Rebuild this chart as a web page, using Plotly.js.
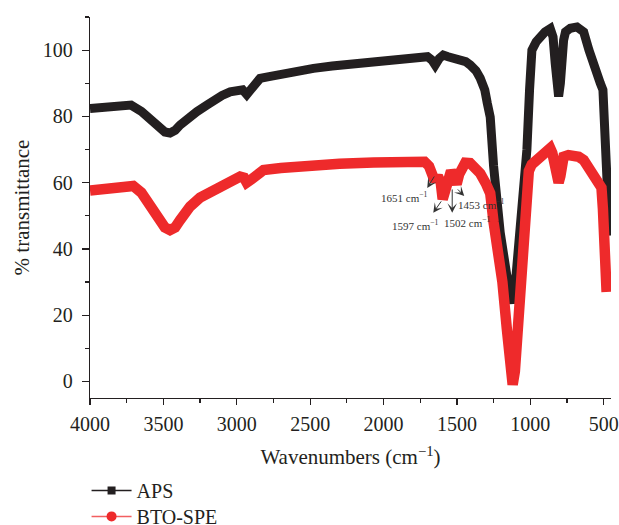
<!DOCTYPE html>
<html>
<head>
<meta charset="utf-8">
<script src="https://cdn.plot.ly/plotly-3.0.1.min.js"></script>
<style>html,body{margin:0;padding:0;background:#fff;}#chart{width:619px;height:525px;}</style>
</head>
<body>
<div id="chart"></div>
<script>
// APS spectrum
var apsWavenumber = [4000,3900,3800,3720,3650,3600,3545,3490,3455,3420,3386,3330,3272,3200,3159,3100,3045,2990,2960,2932,2900,2886,2841,2780,2704,2600,2477,2350,2250,2150,2068,1950,1886,1800,1750,1700,1670,1648,1620,1593,1560,1520,1477,1440,1409,1370,1341,1310,1293,1273,1250,1205,1160,1130,1114,1095,1070,1045,1023,1005,989,960,932,900,864,845,830,815,807,795,785,773,760,727,682,636,600,568,540,523,505,490,475,460];
var apsTransmittance = [82.4,82.8,83.2,83.4,81.5,79.6,76.9,75.3,75.0,75.8,77.4,79.6,81.4,83.5,84.9,86.3,87.4,88.0,88.0,86.6,88.5,89.4,91.5,92.0,92.8,93.7,94.5,95.2,95.7,96.3,96.8,97.0,97.2,98.0,98.3,98.0,97.0,95.5,97.5,98.5,98.0,97.6,97.3,96.5,95.5,93.8,91.5,88.0,84.0,79.8,65.0,45.0,32.0,25.0,23.6,33.0,45.7,58.0,70.0,88.0,100.0,102.5,104.0,105.5,106.5,104.0,96.0,88.0,86.0,90.0,98.0,103.0,105.5,106.6,107.0,105.5,100.0,95.0,91.5,90.0,88.0,70.0,52.0,44.0];

// BTO-SPE spectrum
var btoWavenumber = [4000,3900,3800,3750,3705,3650,3613,3545,3490,3455,3420,3386,3318,3250,3159,3090,3023,2977,2950,2932,2900,2864,2818,2700,2600,2477,2300,2068,1900,1772,1720,1690,1670,1651,1630,1610,1597,1580,1560,1540,1520,1502,1485,1465,1443,1410,1370,1341,1300,1273,1250,1220,1190,1160,1135,1120,1105,1090,1070,1050,1035,1023,1010,990,977,920,880,864,850,835,820,807,795,785,773,740,705,670,636,600,568,540,515,505,495,485,480];
var btoTransmittance = [57.6,58.2,58.8,59.3,59.0,57.0,54.8,49.7,46.5,45.7,46.5,48.7,52.8,55.5,57.8,59.8,61.3,61.8,61.5,60.0,61.0,62.3,63.8,64.4,64.9,65.3,65.7,66.1,66.2,66.5,66.3,65.0,62.5,60.5,62.0,60.0,55.0,58.0,62.5,63.5,62.0,59.5,62.5,65.0,66.0,65.9,64.5,62.8,59.5,56.8,48.0,40.0,30.0,16.0,5.0,-1.0,3.0,12.0,25.0,40.0,52.0,60.0,63.5,65.5,66.0,68.5,70.0,70.4,69.0,64.0,60.5,60.0,62.0,66.5,67.8,68.3,68.3,67.8,66.8,64.0,61.8,60.0,58.5,52.0,40.0,30.0,27.0];

var seriesNames = ['APS', 'BTO-SPE'];
var peakLabels = ['1651 cm<sup>\u22121</sup>', '1597 cm<sup>\u22121</sup>', '1502 cm<sup>\u22121</sup>', '1453 cm<sup>\u22121</sup>'];
var peakLabelX = [1859, 1784, 1429, 1334];
var peakLabelY = [55.7, 47.2, 48.1, 53.5];
var arrowTailX = [1648, 1600, 1532, 1504];
var arrowTailY = [62.3, 54.8, 58.4, 58.4];
var arrowHeadX = [1702, 1661, 1532, 1450];
var arrowHeadY = [58.4, 50.9, 50.9, 56.0];

var xTickVals = [4000,3500,3000,2500,2000,1500,1000,500];
var yTickVals = [0,20,40,60,80,100];

var BLACK = '#231f20';
var RED = '#ee2a2b';
var FONT = 'Liberation Serif, Times New Roman, serif';

var traces = [
  {x: apsWavenumber, y: apsTransmittance, mode: 'lines', showlegend: false,
   line: {color: BLACK, width: 9}, hoverinfo: 'skip'},
  {x: btoWavenumber, y: btoTransmittance, mode: 'lines', showlegend: false,
   line: {color: RED, width: 10.5}, hoverinfo: 'skip'},
  {x: [null], y: [null], mode: 'lines+markers', name: seriesNames[0], legend: 'legend',
   line: {color: BLACK, width: 1.5}, marker: {symbol: 'square', size: 8, color: BLACK}},
  {x: [null], y: [null], mode: 'lines+markers', name: seriesNames[1], legend: 'legend2',
   line: {color: 'rgba(238,42,43,0.75)', width: 1.5}, marker: {symbol: 'circle', size: 10, color: RED}}
];

var annotations = [];
for (var i = 0; i < peakLabels.length; i++) {
  annotations.push({x: peakLabelX[i], y: peakLabelY[i], xref: 'x', yref: 'y', text: peakLabels[i],
    showarrow: false, font: {family: FONT, size: 11, color: '#333'}});
  annotations.push({x: arrowHeadX[i], y: arrowHeadY[i], ax: arrowTailX[i], ay: arrowTailY[i],
    xref: 'x', yref: 'y', axref: 'x', ayref: 'y', text: '', showarrow: true,
    arrowhead: 3, arrowsize: 1.6, arrowwidth: 1, arrowcolor: '#333', standoff: 0, startstandoff: 0});
}

var legendBase = {x: -0.0066, xanchor: 'left', yanchor: 'middle', orientation: 'v', itemwidth: 40,
  font: {family: FONT, size: 20, color: BLACK}, bgcolor: 'rgba(0,0,0,0)'};
var legend1 = Object.assign({}, legendBase, {y: (398.3 - 490.7) / 381});
var legend2 = Object.assign({}, legendBase, {y: (398.3 - 516.7) / 381});

var layout = {
  width: 619, height: 525,
  margin: {l: 90, r: 8, t: 17, b: 127, autoexpand: false},
  paper_bgcolor: '#fff', plot_bgcolor: '#fff',
  font: {family: FONT, color: BLACK},
  showlegend: true,
  legend: legend1,
  legend2: legend2,
  xaxis: {
    range: [4000, 450], tickvals: xTickVals, ticks: 'outside', ticklen: 6, tickwidth: 1.2, tickcolor: BLACK,
    showline: true, linecolor: BLACK, linewidth: 1.3, showgrid: false, zeroline: false,
    tickfont: {family: FONT, size: 20, color: BLACK}, ticklabelstandoff: 2,
    minor: {dtick: 250, tick0: 250, ticks: 'outside', ticklen: 4, tickwidth: 1.2, tickcolor: BLACK, showgrid: false},
    title: {text: 'Wavenumbers (cm<sup>\u22121</sup>)', font: {family: FONT, size: 21, color: BLACK}, standoff: 15}
  },
  yaxis: {
    range: [-5, 110], tickvals: yTickVals, ticks: 'outside', ticklen: 7, tickwidth: 1.2, tickcolor: BLACK,
    showline: true, linecolor: BLACK, linewidth: 1.3, showgrid: false, zeroline: false,
    tickfont: {family: FONT, size: 20, color: BLACK}, ticklabelstandoff: 5,
    minor: {dtick: 10, tick0: 10, ticks: 'outside', ticklen: 4, tickwidth: 1.2, tickcolor: BLACK, showgrid: false},
    title: {text: '% transmittance', font: {family: FONT, size: 21, color: BLACK}, standoff: 7}
  },
  annotations: annotations
};

Plotly.newPlot('chart', traces, layout, {displayModeBar: false, staticPlot: true});
</script>
</body>
</html>
